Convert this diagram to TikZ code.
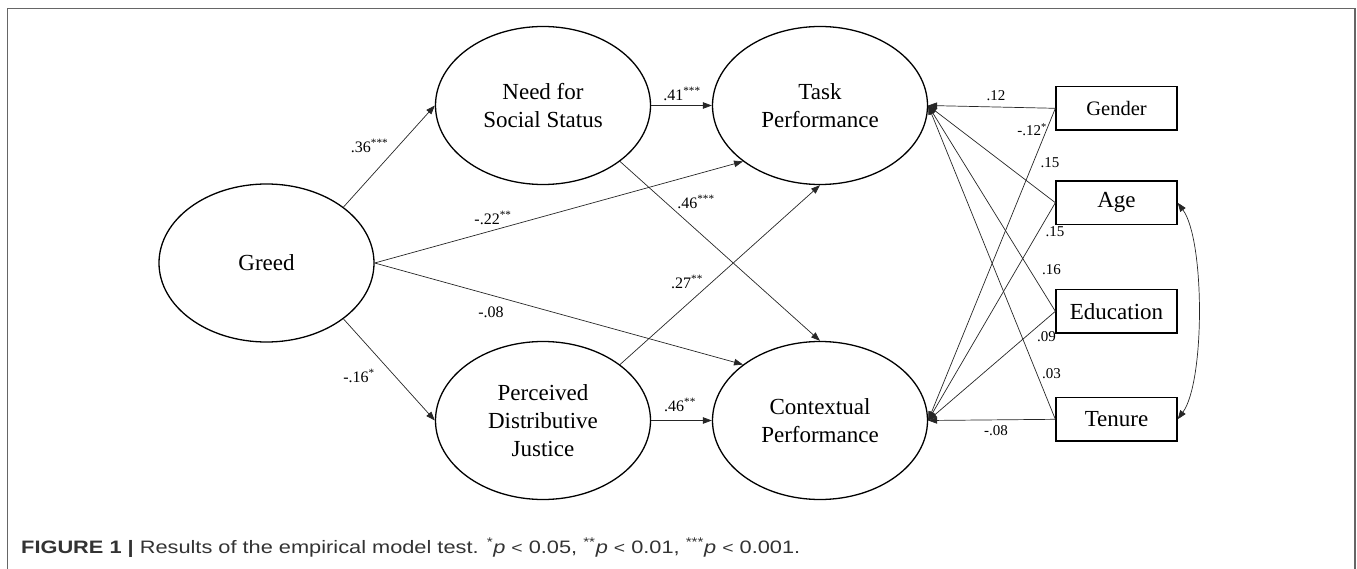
\documentclass[tikz,border=0pt]{standalone}
\usepackage{fontspec}
\setmainfont{Liberation Serif}
\newfontfamily\capfont{Liberation Sans}
\usetikzlibrary{arrows.meta,shapes.geometric}
\newlength\capw
\newcommand\mycaptext{\textbf{FIGURE 1 |} Results of the empirical model test. \textsuperscript{*}\textit{p} {\fontsize{16}{18}\selectfont <} 0.05, \textsuperscript{**}\textit{p} {\fontsize{16}{18}\selectfont <} 0.01, \textsuperscript{***}\textit{p} {\fontsize{16}{18}\selectfont <} 0.001.}
\tikzset{
  latent/.style={draw=black, line width=1.3pt, ellipse, minimum width=215pt, minimum height=158pt, inner sep=0pt, align=center, font=\fontsize{23}{28}\selectfont},
  obs/.style={draw=black, line width=1.3pt, rectangle, minimum width=121pt, minimum height=43.5pt, inner sep=0pt, font=\fontsize{23}{28}\selectfont},
  arr/.style={draw=black!85, line width=0.7pt, -{Triangle[length=9pt,width=6.5pt]}},
  arrr/.style={draw=black!85, line width=0.7pt, {Triangle[length=9pt,width=6.5pt]}-{Triangle[length=9pt,width=6.5pt]}},
  lab/.style={font=\fontsize{16}{18}\selectfont, inner sep=0pt},
  slab/.style={font=\fontsize{15}{18}\selectfont, inner sep=0pt},
}
\begin{document}
\settowidth\capw{\capfont\fontsize{18}{20}\selectfont\mycaptext}%
\pgfmathsetmacro\capsx{779/\capw}%
\begin{tikzpicture}[x=1pt,y=-1pt]
\useasboundingbox (0,0) rectangle (1357,569);
% frame
\draw[line width=1.5pt, draw=black!60] (7.5,569) -- (7.5,8.7) -- (1355,8.7) -- (1355,569);

% latent variables
\node[latent] (greed) at (266.5,263) {Greed};
\node[latent] (need) at (543,105.5) {Need for\\Social Status};
\node[latent] (pdj) at (543,420.5) {Perceived\\Distributive\\Justice};
\node[latent] (task) at (820,105.5) {Task\\Performance};
\node[latent] (ctx) at (820,420.5) {Contextual\\Performance};

% observed controls
\node[obs, font=\fontsize{20.5}{24}\selectfont] (gender) at (1116.5,108.3) {Gender};
\node[obs] (age) at (1116.5,202.7) {Age};
\node[obs] (edu) at (1116.5,311.3) {Education};
\node[obs] (tenure) at (1116.5,419.3) {Tenure};

% structural paths
\draw[arr] (greed.36) -- (need.west);
\draw[arr] (greed.east) -- (task.216);
\draw[arr] (greed.east) -- (ctx.144);
\draw[arr] (greed.-36) -- (pdj.west);
\draw[arr] (need.east) -- (task.west);
\draw[arr] (need.-36) -- (ctx.north);
\draw[arr] (pdj.36) -- (task.south);
\draw[arr] (pdj.east) -- (ctx.west);

% control paths
\foreach \c in {gender,age,edu,tenure}{
  \draw[arr] (\c.west) -- (task.east);
  \draw[arr] (\c.west) -- (ctx.east);
}
\draw[arrr] (age.east) .. controls (1205,240) and (1205,382) .. (tenure.east);

% path labels
\node[lab] (l1) at (369.6,146) {.36\textsuperscript{***}};
\node[lab] (l2) at (493,218) {-.22\textsuperscript{**}};
\node[lab] (l3) at (682,94) {.41\textsuperscript{***}};
\node[lab] (l4) at (696,201.7) {.46\textsuperscript{***}};
\node[lab] (l5) at (687,281.7) {.27\textsuperscript{**}};
\node[lab] (l6) at (491,312.7) {-.08};
\node[lab] (l7) at (359,376) {-.16\textsuperscript{*}};
\node[lab] (l8) at (680,405) {.46\textsuperscript{**}};

% control labels
\node[slab] (c1) at (996,96) {.12};
\node[slab] (c2) at (1032,130) {-.12\textsuperscript{*}};
\node[slab] (c3) at (1050,163) {.15};
\node[slab] (c4) at (1055,231.7) {.15};
\node[slab] (c5) at (1051.5,270) {.16};
\node[slab] (c6) at (1046.6,337) {.09};
\node[slab] (c7) at (1051.5,374) {.03};
\node[slab] (c8) at (996,431) {-.08};

% caption
\node[anchor=base west, inner sep=0pt, text=black!80] (cap) at (21,553) {\scalebox{\capsx}[1]{\capfont\fontsize{18}{20}\selectfont\mycaptext}};
\end{tikzpicture}
\end{document}
